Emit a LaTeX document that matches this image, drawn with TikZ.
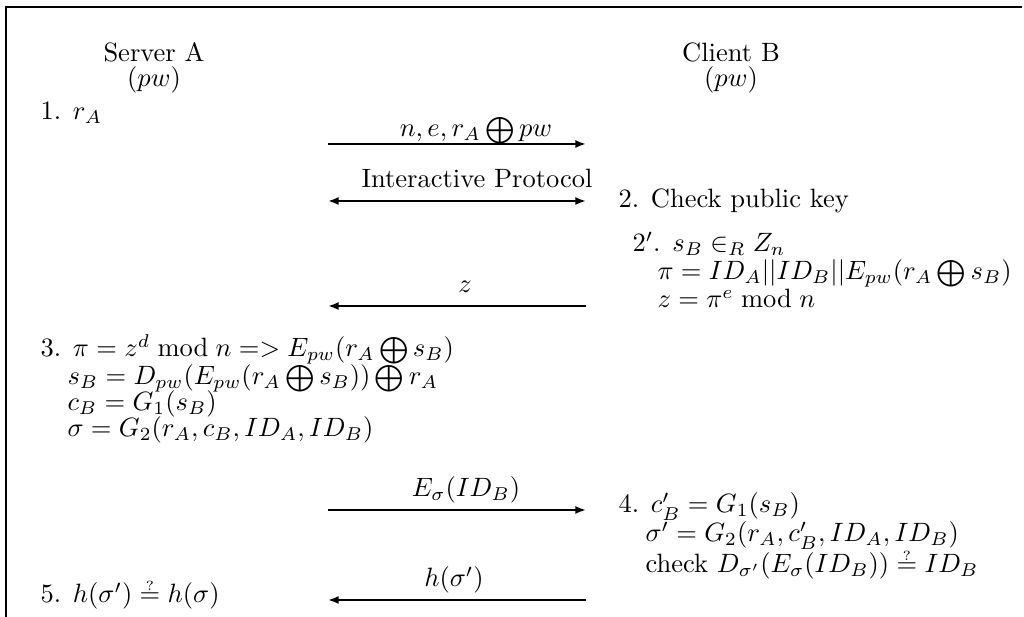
\documentclass[tikz,border=0pt]{standalone}
\usetikzlibrary{arrows.meta}
\newcommand{\qeq}{\mathrel{\vbox{\offinterlineskip\halign{\hfil##\hfil\cr$\scriptscriptstyle ?$\cr\noalign{\kern1.2pt}$=$\cr}}}}
\begin{document}
\begin{tikzpicture}[x=0.37736pt,y=-0.37736pt,
  txt/.style={inner sep=0pt,anchor=base west},
  lbl/.style={inner sep=0pt,anchor=base},
  msg/.style={line width=0.75pt,-{Latex[length=4pt,width=3pt]}},
  both/.style={line width=0.75pt,{Latex[length=4pt,width=3pt]}-{Latex[length=4pt,width=3pt]}},
  frame/.style={line width=1.1pt}]
\useasboundingbox (0,0) rectangle (1024,617);
% frame
\coordinate (fl) at (6,617);
\coordinate (fc) at (6,7);
\coordinate (fr) at (1022,7);
\draw[frame] (fl) -- (fc) -- (fr);
% headers
\node[lbl] (srv) at (154,62) {Server A};
\node[lbl] (srvpw) at (154,87) {$(pw)$};
\node[lbl] (cli) at (731,62) {Client B};
\node[lbl] (clipw) at (731,87) {$(pw)$};
% server steps
\node[txt] (s1) at (40,120) {1. $r_A$};
\node[txt] (s3a) at (40,357) {3. $\pi = z^d \bmod n => E_{pw}(r_A \bigoplus s_B)$};
\node[txt] (s3b) at (67,385) {$s_B = D_{pw}(E_{pw}(r_A \bigoplus s_B)) \bigoplus r_A$};
\node[txt] (s3c) at (67,411) {$c_B = G_1(s_B)$};
\node[txt] (s3d) at (67,437) {$\sigma = G_2(r_A, c_B, ID_A, ID_B)$};
\node[txt] (s5) at (40,603) {5. $h(\sigma') \qeq h(\sigma)$};
% client steps
\node[txt] (c2) at (618,208) {2. Check public key};
\node[txt] (c2pa) at (632,252) {$2'$. $s_B \in_R Z_n$};
\node[txt] (c2pb) at (657,280) {$\pi = ID_A||ID_B||E_{pw}(r_A \bigoplus s_B)$};
\node[txt] (c2pc) at (657,308) {$z = \pi^e \bmod n$};
\node[txt] (c4a) at (618,513) {4. $c'_B = G_1(s_B)$};
\node[txt] (c4b) at (645,542) {$\sigma' = G_2(r_A, c'_B, ID_A, ID_B)$};
\node[txt] (c4c) at (645,573) {check $D_{\sigma'}(E_\sigma(ID_B)) \qeq ID_B$};
% messages
\coordinate (m1a) at (328,144); \coordinate (m1b) at (586,144);
\coordinate (m2a) at (328,201); \coordinate (m2b) at (586,201);
\coordinate (m3a) at (586,306); \coordinate (m3b) at (328,306);
\coordinate (m4a) at (328,510); \coordinate (m4b) at (586,510);
\coordinate (m5a) at (586,600); \coordinate (m5b) at (328,600);
\draw[msg] (m1a) -- (m1b);
\draw[both] (m2a) -- (m2b);
\draw[msg] (m3a) -- (m3b);
\draw[msg] (m4a) -- (m4b);
\draw[msg] (m5a) -- (m5b);
\node[lbl] (l1) at (476,137) {$n, e, r_A \bigoplus pw$};
\node[lbl] (l2) at (477,188) {Interactive Protocol};
\node[lbl] (l3) at (465,293) {$z$};
\node[lbl] (l4) at (466,497) {$E_\sigma(ID_B)$};
\node[lbl] (l5) at (454,587) {$h(\sigma')$};
\end{tikzpicture}
\end{document}
